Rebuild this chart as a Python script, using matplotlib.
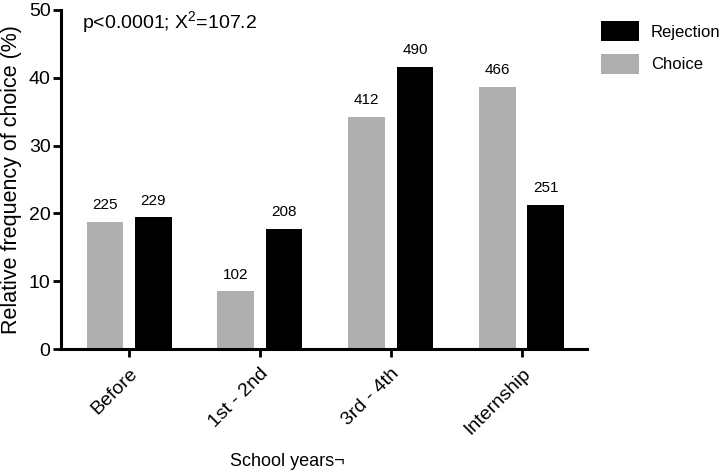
import matplotlib.pyplot as plt
import numpy as np

plt.rcParams['font.family'] = ['Liberation Sans', 'DejaVu Sans']
plt.rcParams['mathtext.fontset'] = 'custom'
plt.rcParams['mathtext.rm'] = 'Liberation Sans'
plt.rcParams['mathtext.it'] = 'Liberation Sans'

groups = ['Before', '1st - 2nd', '3rd - 4th', 'Internship']
choice_pct = [18.7, 8.5, 34.2, 38.7]
reject_pct = [19.4, 17.7, 41.6, 21.3]
choice_n = [225, 102, 412, 466]
reject_n = [229, 208, 490, 251]

fig = plt.figure(figsize=(7.21, 4.76), dpi=100)
ax = fig.add_axes([61/721, 1 - 349/476, 526/721, 339/476])

x = np.arange(len(groups))
w = 0.28
off = 0.185
b1 = ax.bar(x - off, choice_pct, w, color='#afafaf', label='Choice')
b2 = ax.bar(x + off, reject_pct, w, color='black', label='Rejection')
ax.bar_label(b1, labels=[str(v) for v in choice_n], padding=7, fontsize=11)
ax.bar_label(b2, labels=[str(v) for v in reject_n], padding=7, fontsize=11)

ax.set_xlim(-0.52, 3.50)
ax.set_ylim(0, 50)
ax.set_yticks([0, 10, 20, 30, 40, 50])
ax.set_xticks(x)
ax.set_xticklabels(groups, rotation=45, ha='right', rotation_mode='anchor')

for s in ['top', 'right']:
    ax.spines[s].set_visible(False)
for s in ['left', 'bottom']:
    ax.spines[s].set_linewidth(2.2)
ax.tick_params(width=2, length=5.5)
ax.tick_params(axis='y', labelsize=14, pad=2)
ax.tick_params(axis='x', labelsize=14, pad=6)

ax.set_ylabel('Relative frequency of choice (%)', fontsize=15.5, labelpad=5)
ax.set_xlabel('School years¬', fontsize=13)
ax.xaxis.label.set_va('center')
ax.xaxis.set_label_coords(0.43, -0.333)

ax.text(0.04, 0.965, 'p<0.0001; X$^2$=107.2', transform=ax.transAxes,
        fontsize=14, va='center', ha='left')

ax.legend(handles=[b2, b1], loc='upper left', bbox_to_anchor=(601/721, 1 - 21/476),
          bbox_transform=fig.transFigure, frameon=False, fontsize=12,
          handlelength=2.25, handleheight=1.5, labelspacing=0.75, handletextpad=0.75,
          borderaxespad=0, borderpad=0)

fig.savefig('out.png', dpi=100)
